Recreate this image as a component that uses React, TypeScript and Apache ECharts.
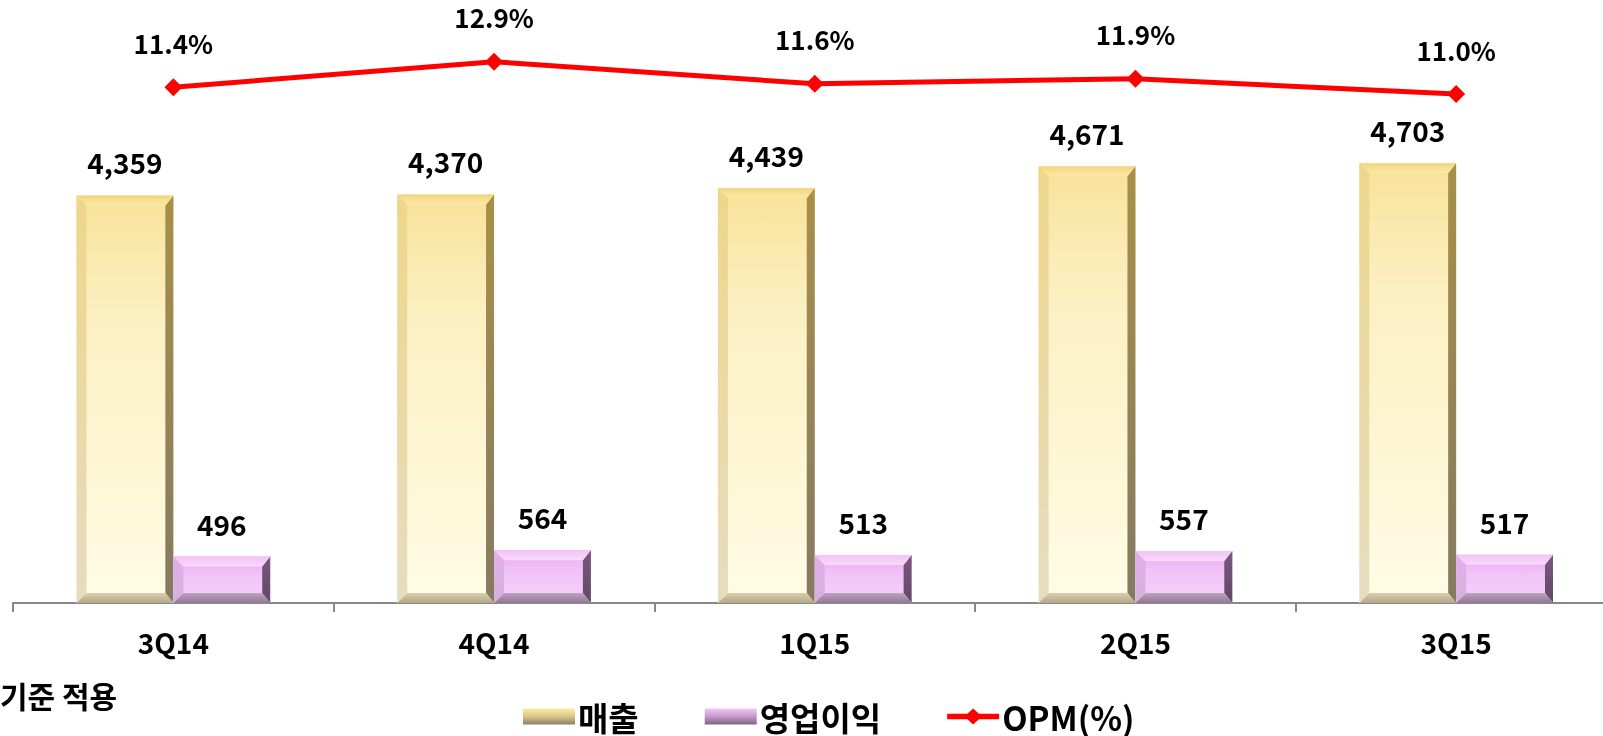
import React, { useEffect, useRef } from "react";
import * as echarts from "echarts";

const categories = ["3Q14", "4Q14", "1Q15", "2Q15", "3Q15"];
const salesValues = [4359, 4370, 4439, 4671, 4703];
const profitValues = [496, 564, 513, 557, 517];
const opmValues = [11.4, 12.9, 11.6, 11.9, 11.0];
const seriesNames = ["매출", "영업이익", "OPM(%)"];
const noteText = "기준 적용";

const FONT = "'Noto Sans CJK KR', 'Noto Sans', sans-serif";

const lg = (stops: [number, string][], x2 = 0, y2 = 1) =>
  new echarts.graphic.LinearGradient(0, 0, x2, y2, stops.map(([offset, color]) => ({ offset, color })));

const palettes = [
  {
    face: () => lg([[0, "#f8e299"], [0.3, "#fcf0c2"], [1, "#fffce6"]]),
    top: () => lg([[0, "#f2d67e"], [1, "#fbe9a6"]]),
    left: () => lg([[0, "#eed68a"], [1, "#e6dcc0"]]),
    right: () => lg([[0, "#a88f48"], [1, "#857a62"]]),
    bottom: () => lg([[0, "#d9cfae"], [1, "#b3a888"]]),
  },
  {
    face: () => lg([[0, "#eaaaf2"], [0.4, "#f1c3f7"], [1, "#f5d2fa"]]),
    top: () => lg([[0, "#f3c2f7"], [1, "#f8dafb"]]),
    left: () => lg([[0, "#e2aeea"], [1, "#d6b0dc"]]),
    right: () => lg([[0, "#7b5682"], [1, "#5f4a63"]]),
    bottom: () => lg([[0, "#bfa2c4"], [1, "#8f7a93"]]),
  },
];

function makeRender(seriesIdx: number) {
  return (params: any, api: any) => {
    const idx = api.value(0);
    const val = api.value(1);
    const p = api.coord([idx, val]);
    const p0 = api.coord([idx, 0]);
    const bw = api.size([1, 0])[0] * 0.302;
    const x0 = seriesIdx === 0 ? p[0] - bw : p[0];
    const x1 = x0 + bw;
    const y0 = p[1];
    const y1 = p0[1];
    const b = Math.min(10, (y1 - y0) / 3);
    const pal = palettes[seriesIdx];
    return {
      type: "group",
      children: [
        { type: "rect", shape: { x: x0, y: y0, width: x1 - x0, height: y1 - y0 }, style: { fill: pal.face() } },
        { type: "polygon", shape: { points: [[x0, y0], [x0 + b, y0 + b], [x0 + b, y1 - b], [x0, y1]] }, style: { fill: pal.left() } },
        { type: "polygon", shape: { points: [[x1, y0], [x1, y1], [x1 - b * 0.8, y1 - b], [x1 - b * 0.8, y0 + b]] }, style: { fill: pal.right() } },
        { type: "polygon", shape: { points: [[x0, y1], [x0 + b, y1 - b], [x1 - b * 0.8, y1 - b], [x1, y1]] }, style: { fill: pal.bottom() } },
        { type: "polygon", shape: { points: [[x0, y0], [x1, y0], [x1 - b * 0.8, y0 + b], [x0 + b, y0 + b]] }, style: { fill: pal.top() } },
        {
          type: "text",
          x: (x0 + x1) / 2,
          y: y0 - 19,
          style: {
            text: Number(val).toLocaleString("en-US"),
            align: "center",
            verticalAlign: "bottom",
            fill: "#000",
            font: `bold 28px ${FONT}`,
          },
        },
      ],
    };
  };
}

const LINE_ICON = "path://M0,6 L21,6 L27,0 L33,6 L54,6 L54,12 L33,12 L27,18 L21,12 L0,12 Z";

export default function App() {
  const ref = useRef<HTMLDivElement>(null);
  useEffect(() => {
    if (!ref.current) return;
    const chart = echarts.init(ref.current, undefined, { renderer: "svg" });
    chart.setOption({
      animation: false,
      textStyle: { fontFamily: FONT },
      grid: { left: 13, top: 42, width: 1603.5, height: 561 },
      xAxis: {
        type: "category",
        data: categories,
        boundaryGap: true,
        axisLine: { lineStyle: { color: "#888888", width: 2 } },
        axisTick: { show: true, length: 9, lineStyle: { color: "#888888", width: 2 } },
        axisLabel: { color: "#000", fontSize: 28, fontWeight: "bold", fontFamily: FONT, margin: 25 },
      },
      yAxis: [
        { type: "value", min: 0, max: 6000, show: false, splitLine: { show: false } },
        { type: "value", min: -18.94, max: 14.06, show: false, splitLine: { show: false } },
      ],
      legend: {
        left: 523,
        top: 700,
        padding: 0,
        itemWidth: 52,
        itemHeight: 16,
        itemGap: 66,
        symbolKeepAspect: false,
        textStyle: { color: "#000", fontSize: 33, lineHeight: 33, fontWeight: "bold", fontFamily: FONT, padding: [0, 0, 0, -2] },
        data: [
          { name: seriesNames[0], icon: "rect", itemStyle: { color: lg([[0, "#fbee9e"], [0.5, "#d9c58a"], [1, "#8a7f66"]]) } },
          { name: seriesNames[1], icon: "rect", itemStyle: { color: lg([[0, "#f4c4f8"], [0.5, "#c39ac9"], [1, "#7c6780"]]) } },
          { name: seriesNames[2], icon: LINE_ICON, itemStyle: { color: "#ff0000", borderWidth: 0 } },
        ],
      },
      series: [
        {
          name: seriesNames[0],
          type: "custom",
          renderItem: makeRender(0),
          itemStyle: { color: "#f6dc8a" },
          encode: { x: 0, y: 1 },
          data: salesValues.map((v, i) => [i, v]),
          z: 2,
        },
        {
          name: seriesNames[1],
          type: "custom",
          renderItem: makeRender(1),
          itemStyle: { color: "#e9a6f1" },
          encode: { x: 0, y: 1 },
          data: profitValues.map((v, i) => [i, v]),
          z: 2,
        },
        {
          name: seriesNames[2],
          type: "line",
          yAxisIndex: 1,
          data: opmValues,
          symbol: "diamond",
          symbolSize: 18,
          itemStyle: { color: "#ff0000" },
          lineStyle: { color: "#ff0000", width: 5 },
          label: {
            show: true,
            position: "top",
            distance: 23,
            color: "#000",
            fontSize: 26,
            lineHeight: 26,
            fontWeight: "bold",
            fontFamily: FONT,
            formatter: (p: any) => Number(p.value).toFixed(1) + "%",
          },
          z: 3,
        },
      ],
      graphic: [
        {
          type: "text",
          left: 0,
          top: 680,
          style: { text: noteText, fill: "#000", font: `bold 30px ${FONT}` },
        },
      ],
    });
    return () => chart.dispose();
  }, []);
  return <div ref={ref} style={{ position: "fixed", left: 0, top: 0, width: 1660, height: 736 }} />;
}
